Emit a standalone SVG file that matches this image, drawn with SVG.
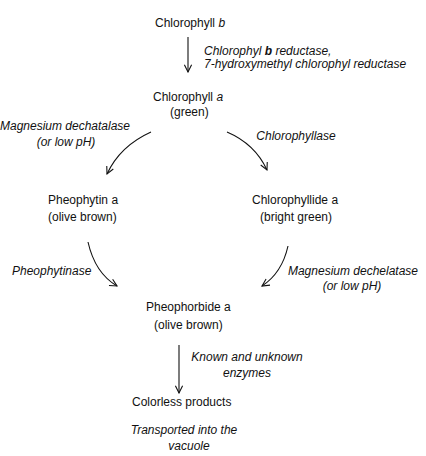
<svg xmlns="http://www.w3.org/2000/svg" width="426" height="456" viewBox="0 0 426 456">
<defs>
<marker id="ah" viewBox="0 0 10 10" refX="9" refY="5" markerWidth="9" markerHeight="9" markerUnits="userSpaceOnUse" orient="auto">
<path d="M1,1 L9,5 L1,9" fill="none" stroke="#111" stroke-width="1.2"/>
</marker>
<style>
text{font-family:"Liberation Sans",Arial,sans-serif;font-size:12px;fill:#111}
.i{font-style:italic;font-size:12px}
.c{fill:none;stroke:#111;stroke-width:1.1;marker-end:url(#ah)}
</style>
</defs>
<rect width="426" height="456" fill="#fff"/>
<g id="chlb"><text x="155" y="27">Chlorophyll <tspan font-style="italic">b</tspan></text></g>
<g id="chla"><text x="153" y="101">Chlorophyll <tspan font-style="italic">a</tspan></text><text x="170" y="116">(green)</text></g>
<g id="pheophytin"><text x="48" y="204">Pheophytin a</text><text x="48" y="221">(olive brown)</text></g>
<g id="chlorophyllide"><text x="252" y="204">Chlorophyllide a</text><text x="260" y="221">(bright green)</text></g>
<g id="pheophorbide"><text x="146" y="311">Pheophorbide a</text><text x="154" y="329">(olive brown)</text></g>
<g id="colorless"><text x="132" y="406">Colorless products</text><text class="i" x="184" y="434" text-anchor="middle">Transported into the</text><text class="i" x="189" y="450" text-anchor="middle">vacuole</text></g>
<g id="connectors">
<path class="c" d="M188,37 L188,72"/>
<path class="c" d="M151,132 Q120,146 107,174"/>
<path class="c" d="M227,132 Q255,144 267,170"/>
<path class="c" d="M88,242 Q95,273 117,286"/>
<path class="c" d="M288,246 Q282,273 262,286"/>
<path class="c" d="M179,345 L179,393"/>
</g>
<g id="labels">
<text class="i" x="204" y="55" font-size="11.5">Chlorophyl <tspan font-weight="bold">b</tspan> reductase,</text>
<text class="i" x="204" y="68">7-hydroxymethyl chlorophyl reductase</text>
<text class="i" x="65" y="130" text-anchor="middle">Magnesium dechatalase</text>
<text class="i" x="66" y="146" text-anchor="middle">(or  low pH)</text>
<text class="i" x="296" y="140" text-anchor="middle">Chlorophyllase</text>
<text class="i" x="12" y="275">Pheophytinase</text>
<text class="i" x="353" y="275" text-anchor="middle">Magnesium dechelatase</text>
<text class="i" x="352" y="290" text-anchor="middle">(or low pH)</text>
<text class="i" x="247" y="361" text-anchor="middle">Known and unknown</text>
<text class="i" x="247" y="377" text-anchor="middle">enzymes</text>
</g>
</svg>
